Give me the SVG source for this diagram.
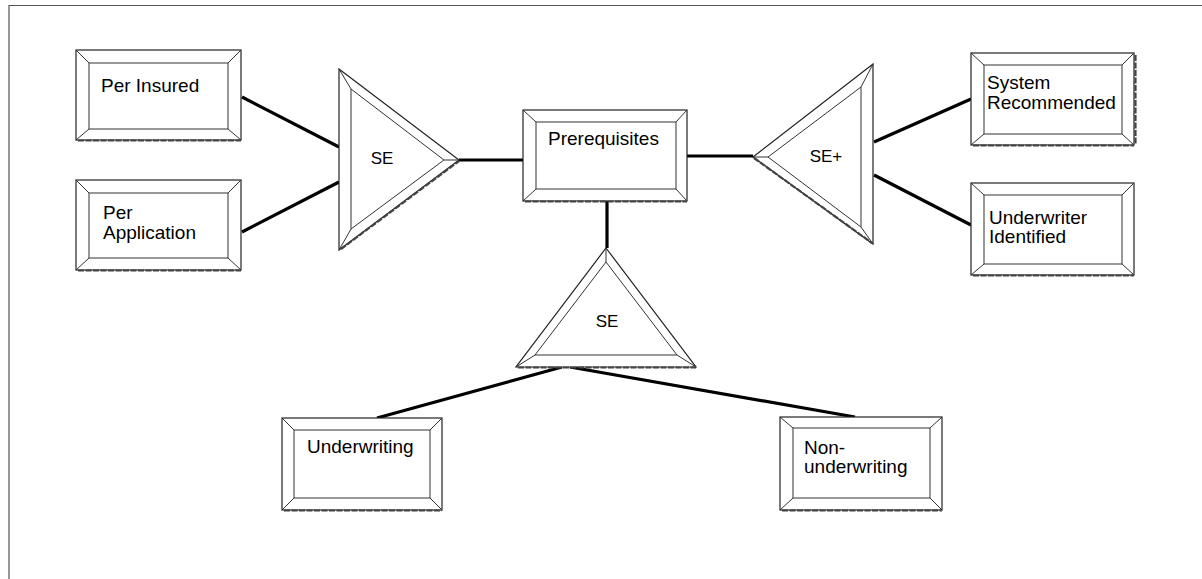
<svg xmlns="http://www.w3.org/2000/svg" width="1202" height="579" viewBox="0 0 1202 579">
<style>
.o{fill:#fff;stroke:#222;stroke-width:1.2}
.i{fill:#fff;stroke:#333;stroke-width:1}
.d{stroke:#333;stroke-width:1;fill:none}
.sh{stroke:#444;stroke-width:2.2;stroke-dasharray:6 1.5;fill:none}
.t{font-family:"Liberation Sans",Arial,sans-serif;font-size:19px;fill:#000}
.s{font-family:"Liberation Sans",Arial,sans-serif;font-size:17px;fill:#000;text-anchor:middle}
.c{stroke:#000;stroke-width:3.2;fill:none}
.f{stroke:#555;stroke-width:1.2;fill:none}
</style>
<rect width="1202" height="579" fill="#fff"/>
<path class="f" d="M9 579 V5.5 H1202"/>
<g id="connectors">
<line class="c" x1="242" y1="97" x2="339" y2="147"/>
<line class="c" x1="242" y1="232" x2="339" y2="182"/>
<line class="c" x1="459" y1="160" x2="523" y2="160"/>
<line class="c" x1="687" y1="156" x2="753" y2="156"/>
<line class="c" x1="874" y1="142" x2="971" y2="99"/>
<line class="c" x1="874" y1="175" x2="971" y2="225"/>
<line class="c" x1="607" y1="201" x2="607" y2="248"/>
<line class="c" x1="562" y1="367" x2="377" y2="418"/>
<line class="c" x1="570" y1="367" x2="855" y2="417"/>
</g>
<g id="per-insured">
<rect class="o" x="76" y="50" width="165" height="90"/>
<rect class="i" x="89" y="63" width="139" height="66"/>
<path class="d" d="M76 50L89 63M241 50L228 63M76 140L89 129M241 140L228 129"/>
<path class="sh" d="M78 140.5H241"/>
<text class="t" x="101" y="92">Per Insured</text>
</g>
<g id="per-application">
<rect class="o" x="76" y="180" width="165" height="90"/>
<rect class="i" x="89" y="193" width="139" height="65"/>
<path class="d" d="M76 180L89 193M241 180L228 193M76 270L89 258M241 270L228 258"/>
<path class="sh" d="M78 270.5H241"/>
<text class="t" x="103" y="219">Per</text>
<text class="t" x="103" y="239">Application</text>
</g>
<g id="se-left">
<polygon class="o" points="339,69 459,160 339,250"/>
<polygon class="i" points="351,89 444,160 351,229"/>
<path class="d" d="M339 69L351 89M459 160L444 160M339 250L351 229"/>
<path class="sh" d="M341 249L459 161"/>
<text class="s" x="382" y="164">SE</text>
</g>
<g id="prerequisites">
<rect class="o" x="523" y="110" width="164" height="91"/>
<rect class="i" x="536" y="122" width="140" height="67"/>
<path class="d" d="M523 110L536 122M687 110L676 122M523 201L536 189M687 201L676 189"/>
<path class="sh" d="M525 201.5H687"/>
<text class="t" x="548" y="145">Prerequisites</text>
</g>
<g id="se-plus">
<polygon class="o" points="753,157 873,64 873,244"/>
<polygon class="i" points="768,157 861,87 861,227"/>
<path class="d" d="M753 157L768 157M873 64L861 87M873 244L861 227"/>
<path class="sh" d="M754 158L872 243"/>
<text class="s" x="826" y="162">SE+</text>
</g>
<g id="system-recommended">
<rect class="o" x="971" y="53" width="163" height="92"/>
<rect class="i" x="984" y="65" width="138" height="69"/>
<path class="d" d="M971 53L984 65M1134 53L1122 65M971 145L984 134M1134 145L1122 134"/>
<path class="sh" d="M973 145.5H1134M1135.5 55V145"/>
<text class="t" x="987" y="89">System</text>
<text class="t" x="987" y="109">Recommended</text>
</g>
<g id="underwriter-identified">
<rect class="o" x="971" y="183" width="163" height="92"/>
<rect class="i" x="984" y="195" width="138" height="69"/>
<path class="d" d="M971 183L984 195M1134 183L1122 195M971 275L984 264M1134 275L1122 264"/>
<path class="sh" d="M973 275.5H1134"/>
<text class="t" x="989" y="224">Underwriter</text>
<text class="t" x="989" y="243">Identified</text>
</g>
<g id="se-bottom">
<polygon class="o" points="606,248 696,367 516,367"/>
<polygon class="i" points="606,262 677,355 535,355"/>
<path class="d" d="M606 248L606 262M516 367L535 355M696 367L677 355"/>
<path class="sh" d="M518 367.5H696"/>
<text class="s" x="607" y="327">SE</text>
</g>
<g id="underwriting">
<rect class="o" x="282" y="418" width="160" height="92"/>
<rect class="i" x="294" y="430" width="136" height="68"/>
<path class="d" d="M282 418L294 430M442 418L430 430M282 510L294 498M442 510L430 498"/>
<path class="sh" d="M284 510.5H442"/>
<text class="t" x="307" y="453">Underwriting</text>
</g>
<g id="non-underwriting">
<rect class="o" x="780" y="417" width="162" height="93"/>
<rect class="i" x="793" y="428" width="137" height="70"/>
<path class="d" d="M780 417L793 428M942 417L930 428M780 510L793 498M942 510L930 498"/>
<path class="sh" d="M782 510.5H942"/>
<text class="t" x="804" y="454">Non-</text>
<text class="t" x="804" y="473">underwriting</text>
</g>
</svg>
